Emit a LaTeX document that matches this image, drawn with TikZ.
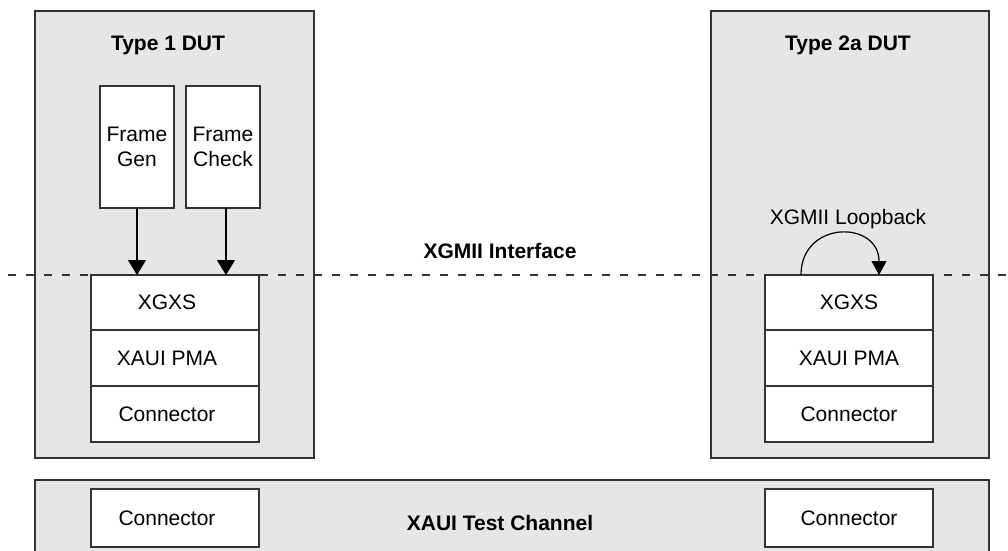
\documentclass[tikz,border=0pt]{standalone}
\usepackage{fontspec}
\setmainfont{Liberation Sans}
\usetikzlibrary{arrows.meta}
\definecolor{dutgray}{HTML}{E5E6E8}
\definecolor{edge}{HTML}{333333}
\begin{document}
\begin{tikzpicture}[x=1pt,y=-1pt,
  every node/.style={inner sep=0pt,outer sep=0pt,font=\fontsize{21}{24.5}\selectfont},
  dut/.style={draw=edge,line width=1.2pt,fill=dutgray},
  blk/.style={draw=edge,line width=1.2pt,fill=white,rectangle,anchor=north west},
  lbl/.style={font=\fontsize{21}{24.5}\selectfont\bfseries},
  flow/.style={draw=black,line width=1.2pt,-{Triangle[width=18pt,length=15pt]}},
  iface/.style={draw=edge,line width=2.6pt,dash pattern=on 8pt off 10pt}]
\useasboundingbox (0,0) rectangle (1008,550);
% DUT enclosures
\path[dut] (35,11) rectangle (314,458);
\path[dut] (711,11) rectangle (989,458);
\path[dut] (35,480) rectangle (989,560);
\node[lbl] (t1) at (168,45) {Type 1 DUT};
\node[lbl] (t2) at (848,45) {Type 2a DUT};
\node[lbl] (xgmii) at (500,251) {XGMII Interface};
\node[lbl] (chan) at (500,523) {XAUI Test Channel};
% interface line
\coordinate (dl) at (8,275);
\coordinate (dr) at (1008,275);
\draw[iface] (dl) -- (dr);
% Type 1
\node[blk,minimum width=74pt,minimum height=122pt,align=center] (gen) at (100,86) {Frame\\Gen};
\node[blk,minimum width=74pt,minimum height=122pt,align=center] (chk) at (186,86) {Frame\\Check};
\node[blk,minimum width=168pt,minimum height=55pt] (lx) at (91,275) {\hspace*{-16pt}XGXS};
\node[blk,minimum width=168pt,minimum height=56pt] (lp) at (91,330) {\hspace*{-16pt}XAUI PMA};
\node[blk,minimum width=168pt,minimum height=56pt] (lc) at (91,386) {\hspace*{-16pt}Connector};
\draw[flow] (gen.south -| 137,0) -- (lx.north -| 137,0);
\draw[flow] (chk.south -| 226,0) -- (lx.north -| 226,0);
% Type 2a
\node[blk,minimum width=168pt,minimum height=55pt] (rx) at (765,275) {XGXS};
\node[blk,minimum width=168pt,minimum height=56pt] (rp) at (765,330) {XAUI PMA};
\node[blk,minimum width=168pt,minimum height=56pt] (rc) at (765,386) {Connector};
\node (loop) at (848,219) {XGMII Loopback};
\coordinate (la) at (801,275);
\coordinate (lb) at (879,275);
\draw[line width=1.2pt,-{Triangle[width=15pt,length=14pt]}] (la) .. controls (801,220) and (879,220) .. (lb);
% channel connectors
\node[blk,minimum width=168pt,minimum height=58pt] (bc1) at (91,489) {\raisebox{-3pt}{\hspace*{-16pt}Connector}};
\node[blk,minimum width=168pt,minimum height=58pt] (bc2) at (765,489) {\raisebox{-3pt}{Connector}};
\end{tikzpicture}
\end{document}
